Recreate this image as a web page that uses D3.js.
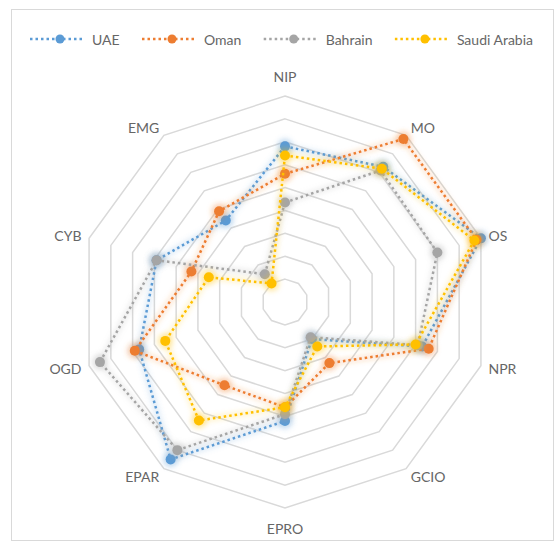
<!DOCTYPE html>
<html>
<head>
<meta charset="utf-8">
<script src="https://cdn.jsdelivr.net/npm/d3@7"></script>
<style>
  html, body { margin: 0; padding: 0; background: #fff; }
  svg { display: block; }
  text { font-family: Lato, "Open Sans", "Liberation Sans", sans-serif; }
</style>
</head>
<body>
<svg id="chart" width="555" height="544"></svg>
<script>
const categories = ["NIP", "MO", "OS", "NPR", "GCIO", "EPRO", "EPAR", "OGD", "CYB", "EMG"];
const seriesNames = ["UAE", "Oman", "Bahrain", "Saudi Arabia"];
const seriesColors = ["#5B9BD5", "#ED7D31", "#A5A5A5", "#FFC000"];
const uaeValues     = [6.8, 7.3, 9.0, 6.3, 2.0, 5.2, 8.5, 6.7, 5.9, 4.4];
const omanValues    = [5.6, 8.8, 8.8, 6.6, 3.3, 4.6, 4.5, 6.9, 4.3, 4.9];
const bahrainValues = [4.35, 7.1, 7.0, 6.1, 1.9, 4.9, 8.0, 8.5, 5.9, 1.5];
const saudiValues   = [6.4, 7.2, 8.7, 6.0, 2.4, 4.6, 6.4, 5.5, 3.5, 1.0];
const gridTicks = [1, 2, 3, 4, 5, 6, 7, 8, 9];

const seriesValues = [uaeValues, omanValues, bahrainValues, saudiValues];

const svg = d3.select("#chart");
const cx = 285, cy = 302, R = 206;
const textColor = "#666666";

// frame
svg.append("rect")
  .attr("x", 11.5).attr("y", 9.5)
  .attr("width", 542).attr("height", 531)
  .attr("fill", "#fff").attr("stroke", "#D9D9D9").attr("stroke-width", 1);

const defs = svg.append("defs");
const glow = defs.append("filter").attr("id", "glow")
  .attr("x", "-50%").attr("y", "-50%").attr("width", "200%").attr("height", "200%");
glow.append("feGaussianBlur").attr("stdDeviation", 2.5);

const r = d3.scaleLinear().domain([0, 9]).range([0, R]);
const angle = d3.scalePoint().domain(categories).range([0, 2 * Math.PI * (categories.length - 1) / categories.length]);

const px = (cat, v) => cx + r(v) * Math.sin(angle(cat));
const py = (cat, v) => cy - r(v) * Math.cos(angle(cat));

const g = svg.append("g");

// grid rings (decagons)
const ringLine = d3.line().curve(d3.curveLinearClosed);
g.selectAll("path.ring").data(gridTicks).join("path")
  .attr("class", "ring")
  .attr("d", t => ringLine(categories.map(c => [px(c, t), py(c, t)])))
  .attr("fill", "none")
  .attr("stroke", "#D9D9D9")
  .attr("stroke-width", 1.5);

// category labels
const LR = 214;
g.selectAll("text.cat").data(categories).join("text")
  .attr("class", "cat")
  .attr("x", c => cx + LR * Math.sin(angle(c)))
  .attr("y", c => {
    const co = Math.cos(angle(c));
    let y = cy - LR * co;
    if (Math.abs(co) > 0.9) y -= co * 12;
    else if (Math.abs(co) > 0.5) y -= co * 2;
    return y;
  })
  .attr("text-anchor", c => {
    const s = Math.sin(angle(c));
    return Math.abs(s) < 0.1 ? "middle" : (s > 0 ? "start" : "end");
  })
  .attr("dominant-baseline", "central")
  .attr("font-size", 14)
  .attr("fill", textColor)
  .text(c => c);

// series
const line = d3.line().curve(d3.curveLinearClosed);
seriesNames.forEach((name, i) => {
  const vals = seriesValues[i];
  const pts = categories.map((c, j) => [px(c, vals[j]), py(c, vals[j])]);
  const sg = g.append("g");
  sg.append("path")
    .attr("d", line(pts))
    .attr("fill", "none")
    .attr("stroke", seriesColors[i])
    .attr("stroke-opacity", 0.18)
    .attr("stroke-width", 6)
    .attr("filter", "url(#glow)");
  sg.append("path")
    .attr("d", line(pts))
    .attr("fill", "none")
    .attr("stroke", seriesColors[i])
    .attr("stroke-width", 2.5)
    .attr("stroke-dasharray", "2.5,3");
  sg.selectAll("circle.halo").data(pts).join("circle")
    .attr("class", "halo")
    .attr("cx", d => d[0]).attr("cy", d => d[1])
    .attr("r", 8)
    .attr("fill", seriesColors[i])
    .attr("fill-opacity", 0.3)
    .attr("filter", "url(#glow)");
  sg.selectAll("circle.pt").data(pts).join("circle")
    .attr("class", "pt")
    .attr("cx", d => d[0]).attr("cy", d => d[1])
    .attr("r", 5)
    .attr("fill", seriesColors[i]);
});

// legend
const lg = svg.append("g");
const ly = 39;
const lineLen = 54, textGap = 8;
const legendLeft = 30, legendRight = 533;
const items = seriesNames.map((name, i) => {
  const item = lg.append("g");
  const t = item.append("text")
    .attr("y", ly)
    .attr("dominant-baseline", "central")
    .attr("font-size", 14)
    .attr("fill", textColor)
    .text(name);
  return { item, t, w: t.node().getComputedTextLength(), i };
});
const totalW = d3.sum(items, d => lineLen + textGap + d.w);
const itemGap = (legendRight - legendLeft - totalW) / (items.length - 1);
let lx = legendLeft;
items.forEach(d => {
  const c = seriesColors[d.i];
  d.item.insert("line", "text")
    .attr("x1", lx).attr("x2", lx + lineLen)
    .attr("y1", ly).attr("y2", ly)
    .attr("stroke", c)
    .attr("stroke-width", 2.5)
    .attr("stroke-dasharray", "2.5,3");
  d.item.insert("circle", "text")
    .attr("cx", lx + lineLen / 2 + 3).attr("cy", ly).attr("r", 4.5)
    .attr("fill", c);
  d.t.attr("x", lx + lineLen + textGap);
  lx += lineLen + textGap + d.w + itemGap;
});
</script>
</body>
</html>
